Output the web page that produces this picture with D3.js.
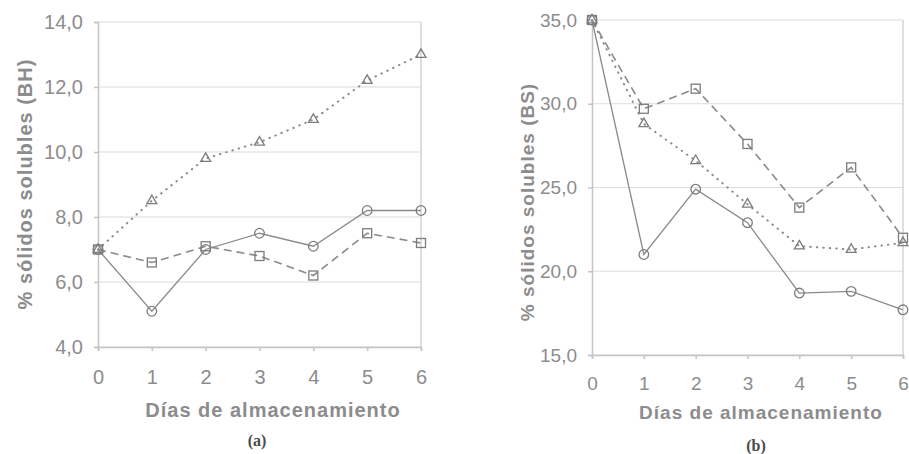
<!DOCTYPE html>
<html>
<head>
<meta charset="utf-8">
<script src="https://cdn.jsdelivr.net/npm/d3@7"></script>
<style>
	body { margin: 0; background: #fff; }
	svg text { font-family: 'Liberation Sans', Arial, sans-serif; fill: #8c8c8c; }
	.axis-title { font-weight: bold; letter-spacing: 1px; }
	.panel-label { font-family: 'Liberation Serif', 'DejaVu Serif', serif; font-weight: bold; fill: #4a4a4a; }
</style>
</head>
<body>
<script>
// days on the x axis
var dias = [0, 1, 2, 3, 4, 5, 6]

// panel (a) - soluble solids, wet basis
var bhCirculo = [7.0, 5.1, 7.0, 7.5, 7.1, 8.2, 8.2]
var bhCuadro = [7.0, 6.6, 7.1, 6.8, 6.2, 7.5, 7.2]
var bhTriangulo = [7.0, 8.5, 9.8, 10.3, 11.0, 12.2, 13.0]
var bhTicks = [4, 6, 8, 10, 12, 14]

// panel (b) - soluble solids, dry basis
var bsCirculo = [35.0, 21.0, 24.9, 22.9, 18.7, 18.8, 17.7]
var bsCuadro = [35.0, 29.7, 30.9, 27.6, 23.8, 26.2, 22.0]
var bsTriangulo = [35.0, 28.8, 26.6, 24.0, 21.5, 21.3, 21.7]
var bsTicks = [15, 20, 25, 30, 35]

var xTitle = 'Días de almacenamiento'

var svg = d3.select('body')
	.append('svg')
		.attr('width', 909)
		.attr('height', 454)

var fmt = function(v) { return d3.format('.1f')(v).replace('.', ',') }

function drawPanel(opts) {

	var x = d3.scaleLinear()
		.domain([0, 6])
		.range([opts.left, opts.right])

	var y = d3.scaleLinear()
		.domain(opts.domain)
		.range([opts.bottom, opts.top])

	var g = svg.append('g')

	// gridlines
	g.selectAll('.grid')
			.data(opts.ticks)
		.enter().append('line')
			.attr('x1', opts.left)
			.attr('x2', opts.right)
			.attr('y1', function(d) { return y(d) })
			.attr('y2', function(d) { return y(d) })
			.attr('stroke', '#dcdcdc')
			.attr('stroke-width', 1.2)

	// right border of the plot area
	g.append('line')
		.attr('x1', opts.right)
		.attr('x2', opts.right)
		.attr('y1', opts.top)
		.attr('y2', opts.bottom)
		.attr('stroke', '#d4d4d4')
		.attr('stroke-width', 1.5)

	// y axis
	var yAxis = g.append('g')
		.attr('transform', 'translate(' + opts.left + ',0)')
		.call(d3.axisLeft(y).tickValues(opts.ticks).tickFormat(fmt).tickSize(4).tickPadding(11))
	yAxis.selectAll('text').style('font-size', opts.font + 'px')

	// x axis
	var xAxis = g.append('g')
		.attr('transform', 'translate(0,' + opts.bottom + ')')
		.call(d3.axisBottom(x).tickValues(dias).tickFormat(d3.format('d')).tickSize(4).tickPadding(opts.xPad))
	xAxis.selectAll('text').style('font-size', opts.font + 'px')

	g.selectAll('.domain, .tick line')
		.attr('stroke', '#c4c4c4')
		.attr('stroke-width', 1.5)

	// lines
	var line = d3.line()
		.x(function(d, i) { return x(dias[i]) })
		.y(function(d) { return y(d) })

	g.append('path')
		.attr('d', line(opts.cuadro))
		.attr('fill', 'none')
		.attr('stroke', '#8a8a8a')
		.attr('stroke-width', 1.6)
		.attr('stroke-dasharray', '8,5')

	g.append('path')
		.attr('d', line(opts.triangulo))
		.attr('fill', 'none')
		.attr('stroke', '#8a8a8a')
		.attr('stroke-width', 2)
		.attr('stroke-linecap', 'round')
		.attr('stroke-dasharray', '0.5,6')

	g.append('path')
		.attr('d', line(opts.circulo))
		.attr('fill', 'none')
		.attr('stroke', '#8a8a8a')
		.attr('stroke-width', 1.3)

	// markers
	g.selectAll('.circ')
			.data(opts.circulo)
		.enter().append('circle')
			.attr('cx', function(d, i) { return x(dias[i]) })
			.attr('cy', function(d) { return y(d) })
			.attr('r', 4.8)
			.attr('fill', 'none')
			.attr('stroke', '#7c7c7c')
			.attr('stroke-width', 1.3)

	g.selectAll('.sq')
			.data(opts.cuadro)
		.enter().append('rect')
			.attr('x', function(d, i) { return x(dias[i]) - 4.5 })
			.attr('y', function(d) { return y(d) - 4.5 })
			.attr('width', 9)
			.attr('height', 9)
			.attr('fill', 'none')
			.attr('stroke', '#7c7c7c')
			.attr('stroke-width', 1.3)

	var tri = d3.symbol().type(d3.symbolTriangle).size(42)
	g.selectAll('.tri')
			.data(opts.triangulo)
		.enter().append('path')
			.attr('d', tri)
			.attr('transform', function(d, i) { return 'translate(' + x(dias[i]) + ',' + y(d) + ')' })
			.attr('fill', 'none')
			.attr('stroke', '#7c7c7c')
			.attr('stroke-width', 1.3)

	// axis titles
	g.append('text')
		.classed('axis-title', true)
		.attr('text-anchor', 'middle')
		.attr('transform', 'translate(' + opts.yTitleX + ',' + opts.yTitleY + ') rotate(-90)')
		.attr('dy', '0.35em')
		.style('font-size', opts.titleFont + 'px')
		.text(opts.yTitle)

	g.append('text')
		.classed('axis-title', true)
		.attr('text-anchor', 'middle')
		.attr('x', opts.xTitleX)
		.attr('y', opts.xTitleY)
		.attr('dy', '0.35em')
		.style('font-size', opts.titleFont + 'px')
		.text(xTitle)

	g.append('text')
		.classed('panel-label', true)
		.attr('text-anchor', 'middle')
		.attr('x', opts.labelX)
		.attr('y', opts.labelY)
		.attr('dy', '0.35em')
		.style('font-size', '16px')
		.text(opts.label)
}

drawPanel({
	left: 98, right: 421, top: 22, bottom: 347,
	domain: [4, 14], ticks: bhTicks,
	circulo: bhCirculo, cuadro: bhCuadro, triangulo: bhTriangulo,
	font: 20, xPad: 19, titleFont: 20,
	yTitle: '% sólidos solubles (BH)', yTitleX: 25, yTitleY: 184,
	xTitleX: 273, xTitleY: 410,
	label: '(a)', labelX: 257, labelY: 440
})

drawPanel({
	left: 592, right: 903, top: 20, bottom: 355,
	domain: [15, 35], ticks: bsTicks,
	circulo: bsCirculo, cuadro: bsCuadro, triangulo: bsTriangulo,
	font: 19, xPad: 18, titleFont: 19,
	yTitle: '% sólidos solubles (BS)', yTitleX: 527, yTitleY: 202,
	xTitleX: 761, xTitleY: 412,
	label: '(b)', labelX: 756, labelY: 445
})
</script>
</body>
</html>
